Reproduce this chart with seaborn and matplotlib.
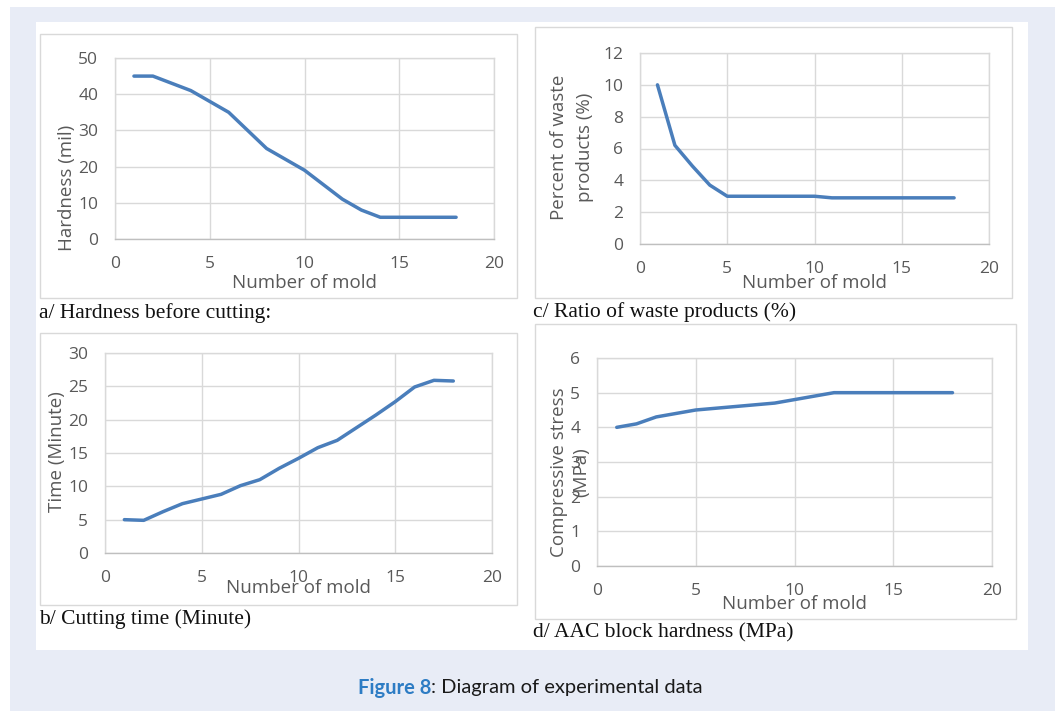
import matplotlib
matplotlib.use("Agg")
import matplotlib.pyplot as plt
import seaborn as sns
import pandas as pd
from matplotlib.patches import Rectangle

# data
mold = list(range(1, 19))
hardness = [45, 45, 43, 41, 38, 35, 30, 25, 22, 19, 15, 11, 8, 6, 6, 6, 6, 6]
waste = [10, 6.2, 4.9, 3.7, 3.0, 3.0, 3.0, 3.0, 3.0, 3.0, 2.9, 2.9, 2.9, 2.9, 2.9, 2.9, 2.9, 2.9]
cut_time = [5, 4.9, 6.2, 7.4, 8.1, 8.8, 10.1, 11, 12.7, 14.2, 15.8, 16.9, 18.8, 20.7, 22.7, 24.9, 25.9, 25.8]
stress = [4.0, 4.1, 4.3, 4.4, 4.5, 4.55, 4.6, 4.65, 4.7, 4.8, 4.9, 5.0, 5.0, 5.0, 5.0, 5.0, 5.0, 5.0]

xlabel = "Number of mold"
ylabels = ["Hardness (mil)", "Percent of waste\nproducts (%)", "Time (Minute)", "Compressive stress\n(MPa)"]
captions = ["a/ Hardness before cutting:", "c/ Ratio of waste products (%)",
            "b/ Cutting time (Minute)", "d/ AAC block hardness (MPa)"]
yticks = [range(0, 51, 10), range(0, 13, 2), range(0, 31, 5), range(0, 7, 1)]

sns.set_theme(style="white")
plt.rcParams['font.family'] = ['Open Sans', 'DejaVu Sans']

W, H = 1060, 711
fig = plt.figure(figsize=(W / 100, H / 100), dpi=100)
fig.patch.set_facecolor("white")


def box(x0, y0, x1, y1):
    return [x0 / W, 1 - y1 / H, (x1 - x0) / W, (y1 - y0) / H]


def px(x, y):
    return x / W, 1 - y / H


# background panels
fig.patches.append(Rectangle((10 / W, 0), 1045 / W, 1 - 7 / H, transform=fig.transFigure,
                             facecolor="#e8ecf6", edgecolor="none", zorder=-3))
fig.patches.append(Rectangle(box(36, 22, 1028, 650)[:2], 992 / W, 628 / H, transform=fig.transFigure,
                             facecolor="white", edgecolor="none", zorder=-2))

panels = [
    # chart box, plot area, ylabel pos, xlabel pos, caption pos
    dict(frame=(40, 34, 517, 298), area=(115, 58, 494, 239), yl=(67, 188), xl=(304, 283), cap=(39, 313)),
    dict(frame=(535, 27, 1012, 298), area=(640, 53, 989, 244), yl=(572, 147), xl=(814, 283), cap=(533, 312)),
    dict(frame=(40, 333, 517, 605), area=(105, 353, 492, 553), yl=(57, 452), xl=(298, 588), cap=(39, 619)),
    dict(frame=(535, 324, 1016, 619), area=(597, 358, 992, 566), yl=(570, 472), xl=(794, 604), cap=(533, 633)),
]
series = [hardness, waste, cut_time, stress]
spacing = [1.3, 1.55, 1.3, 1.35]

for p, vals, yl, cap, yt, ls in zip(panels, series, ylabels, captions, yticks, spacing):
    x0, y0, x1, y1 = p["frame"]
    fig.patches.append(Rectangle(box(x0, y0, x1, y1)[:2], (x1 - x0) / W, (y1 - y0) / H,
                                 transform=fig.transFigure, facecolor="white",
                                 edgecolor="#d9d9d9", lw=1, zorder=-1))
    ax = fig.add_axes(box(*p["area"]))
    df = pd.DataFrame({"mold": mold, "value": vals})
    sns.lineplot(data=df, x="mold", y="value", ax=ax, color="#4a7ebb", lw=2.5,
                 solid_capstyle="round", solid_joinstyle="round", zorder=3)
    ax.set_xlim(0, 20)
    ax.set_xticks(range(0, 21, 5))
    ax.set_ylim(yt[0], yt[-1])
    ax.set_yticks(list(yt))
    ax.set_xlabel("")
    ax.set_ylabel("")
    ax.grid(True, color="#d9d9d9", lw=1)
    ax.set_axisbelow(True)
    for s in ax.spines.values():
        s.set_color("#d9d9d9")
        s.set_linewidth(1)
    ax.spines["bottom"].set_color("#bfbfbf")
    ax.tick_params(length=0, labelsize=12.5, labelcolor="#595959", pad=12)
    ax.patch.set_alpha(0)

    fig.text(*px(*p["xl"]), xlabel, ha="center", va="center", fontsize=13.5, color="#595959")
    fig.text(*px(*p["yl"]), yl, ha="center", va="center", rotation=90, fontsize=13.5,
             color="#595959", linespacing=ls)
    fig.text(*px(*p["cap"]), cap, ha="left", va="center", fontsize=15.5,
             family=["Liberation Serif", "DejaVu Serif"], color="#111111")

t1 = fig.text(*px(358, 688), "Figure 8", ha="left", va="center", fontsize=14.5,
              fontweight="bold", color="#2d7cc4", family=["Lato", "DejaVu Sans"])
fig.add_artist(matplotlib.text.Annotation(": Diagram of experimental data", xy=(1, 0.5),
                                          xycoords=t1, va="center", ha="left", fontsize=14.5,
                                          color="#1a1a1a", family=["Lato", "DejaVu Sans"]))

fig.savefig("out.png", dpi=100)
